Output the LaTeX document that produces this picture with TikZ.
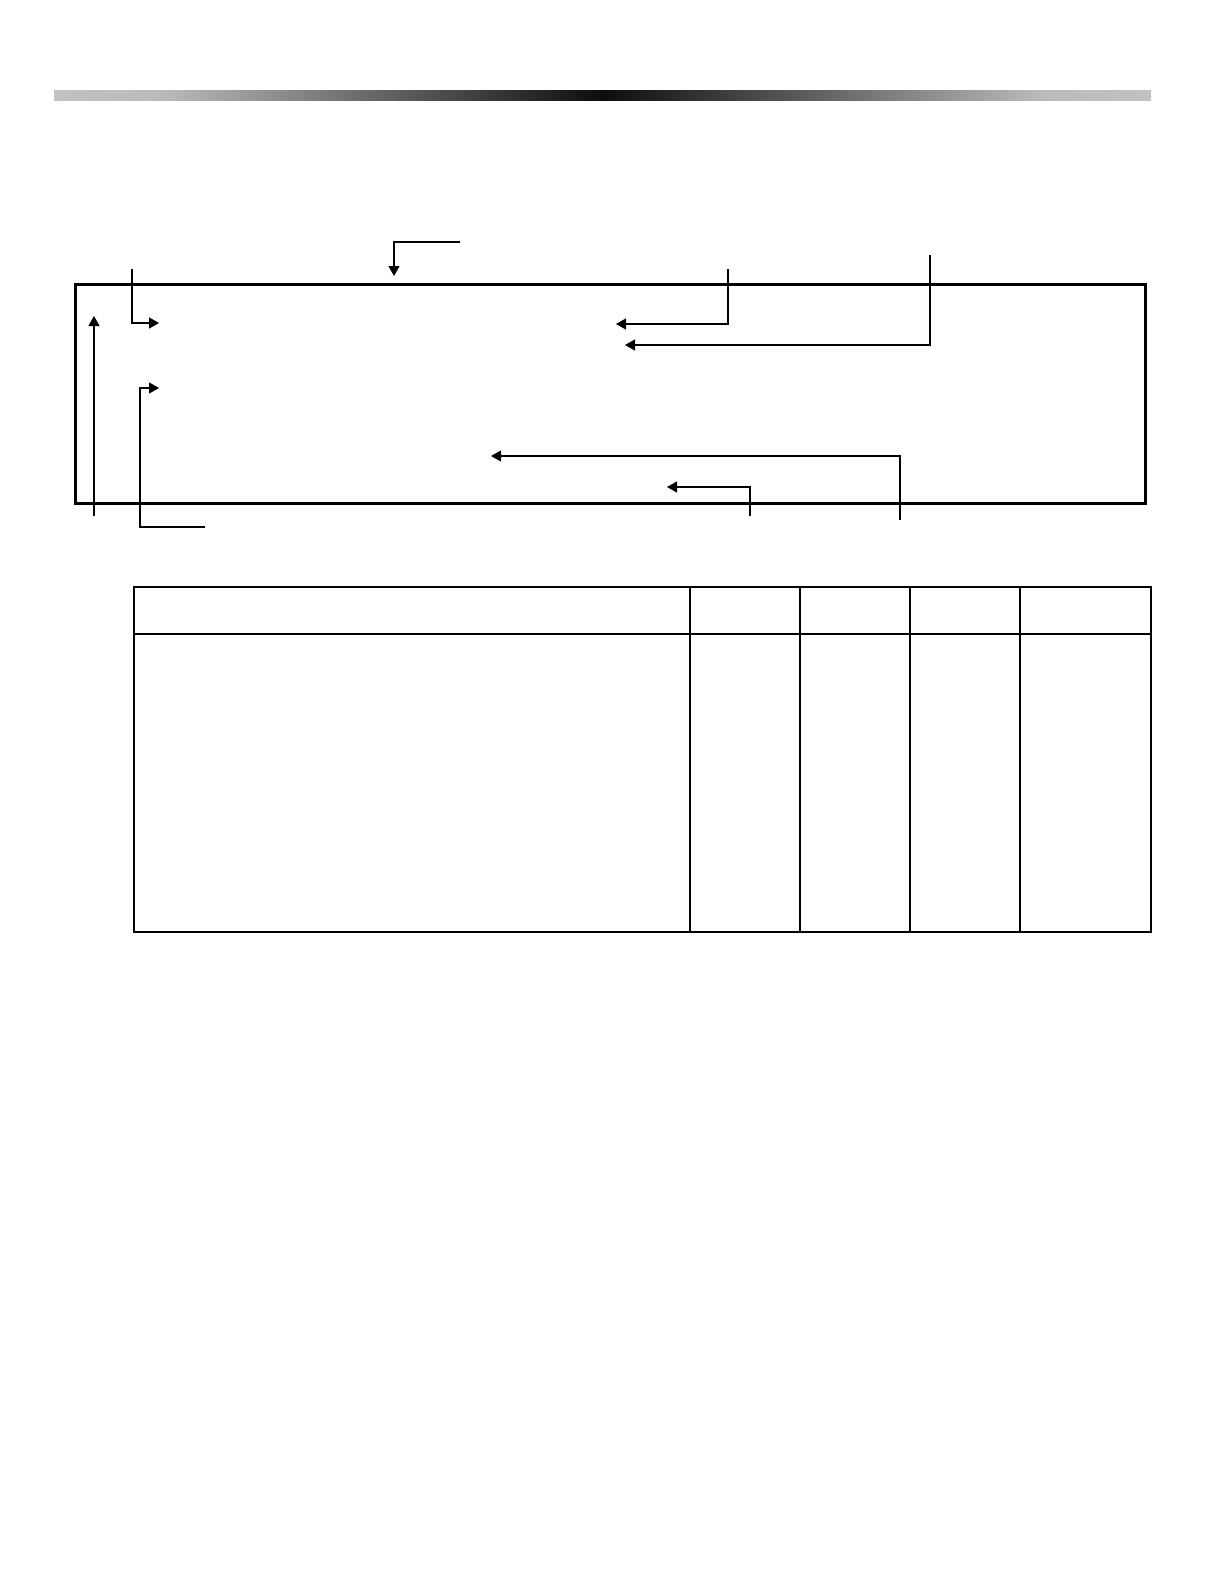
\documentclass[tikz,border=0pt]{standalone}
\usetikzlibrary{arrows.meta,positioning}

\pgfdeclarehorizontalshading{barshade}{100bp}{color(0bp)=(black!24); color(25bp)=(black!24); color(30bp)=(black!27); color(50bp)=(black!95); color(70bp)=(black!27); color(75bp)=(black!24); color(100bp)=(black!24)}

\begin{document}
\begin{tikzpicture}[
		x=0.5pt, y=-0.5pt,
		arrow/.style={-{Triangle[length=5pt,width=5.5pt]}, line width=0.6pt},
		panel/.style={draw, line width=1.5pt, inner sep=0pt, outer sep=0pt, minimum width=534.75pt, minimum height=109.75pt},
		grid/.style={line width=0.75pt},
	]
		\useasboundingbox (0,0) rectangle (1222,1584);
		% top bar
		\shade[shading=barshade] (54,91) rectangle (1151,101);

		\node (frame) [panel] at (610.25,393.75) {};

		% callouts round the panel
		\coordinate (top-s) at (460,242);   \coordinate (top-e) at (394,276);
		\coordinate (ul-s) at (132,269);    \coordinate (ul-e) at (159,323);
		\coordinate (up-s) at (94,516);     \coordinate (up-e) at (94,316);
		\coordinate (ll-s) at (205,527);    \coordinate (ll-e) at (159,388);
		\coordinate (ur-s) at (728,269);    \coordinate (ur-e) at (616,324);
		\coordinate (fr-s) at (930,255);    \coordinate (fr-e) at (625,345);
		\coordinate (lr-s) at (900,520);    \coordinate (lr-e) at (491,456);
		\coordinate (mr-s) at (750,516);    \coordinate (mr-e) at (667,487);

		\draw[arrow] (top-s) -| (top-e);
		\draw[arrow] (ul-s) |- (ul-e);
		\draw[arrow] (up-s) -- (up-e);
		\draw[arrow] (ll-s) -- ++(-65,0) |- (ll-e);
		\draw[arrow] (ur-s) |- (ur-e);
		\draw[arrow] (fr-s) |- (fr-e);
		\draw[arrow] (lr-s) |- (lr-e);
		\draw[arrow] (mr-s) |- (mr-e);

		% table
		\draw[grid] (134,634) -- (1151,634);
		\foreach \x in {690,800,910,1020}
			\draw[grid] (\x,587) -- (\x,932);
		\draw[line width=1.25pt] (134,587) rectangle (1151,932);
	\end{tikzpicture}
\end{document}
